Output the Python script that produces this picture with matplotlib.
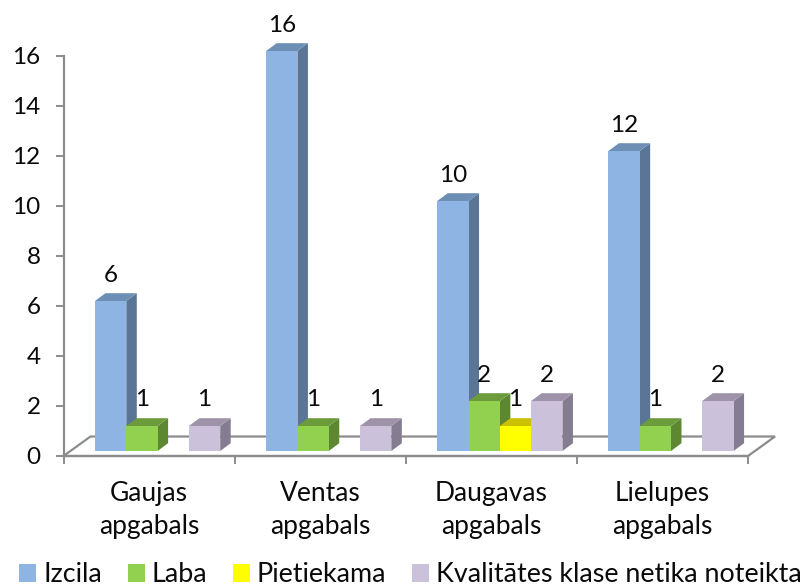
import matplotlib
matplotlib.use("Agg")
import matplotlib.pyplot as plt
from matplotlib.patches import Polygon, Patch

plt.rcParams['font.family'] = ['Lato', 'DejaVu Sans']

categories = ["Gaujas\napgabals", "Ventas\napgabals", "Daugavas\napgabals", "Lielupes\napgabals"]
series_names = ["Izcila", "Laba", "Pietiekama", "Kvalitātes klase netika noteikta"]
izcila = [6, 16, 10, 12]
laba = [1, 1, 2, 1]
pietiekama = [0, 0, 1, 0]
kvalitates = [1, 1, 2, 2]
y_ticks = [0, 2, 4, 6, 8, 10, 12, 14, 16]

# front, top, side colours per series
colors = [("#8EB4E3", "#6E8FB5", "#5B7596"),
          ("#92D050", "#6C9B3C", "#5D8731"),
          ("#FFFF00", "#CCC000", "#CCC000"),
          ("#CCC1DA", "#9E93A9", "#847C91")]

W, H = 805, 587
GRAY = "#8C8C8C"
TEXT = "#0A0A0A"
FS = 19.0
NUM_FS = 17.5
LEG_FS = 19.4

# axes size in pixels, one category is 171 px wide and one unit is 25 px tall
left, right, y0, y16 = 63.5, 748.0, 456.0, 56.0
cat_px = (right - left) / len(categories)
unit_px = (y0 - y16) / 16

bar_w = 31.3 / cat_px
bar_start = 31.5 / cat_px
base = 5.0 / unit_px
depth_x = 10.5 / cat_px
depth_y = 7.8 / unit_px
floor_x = 27.0 / cat_px
floor_y = 19.5 / unit_px
label_gap = 26.0 / unit_px

fig = plt.figure(figsize=(W / 100, H / 100), dpi=100)
ax = fig.add_axes([left / W, 1 - y0 / H, (right - left) / W, (y0 - y16) / H])
ax.set_xlim(0, len(categories))
ax.set_ylim(0, 16)

# floor
n = len(categories)
ax.add_patch(Polygon([(0, 0), (floor_x, floor_y), (n + floor_x, floor_y), (n, 0)],
                     closed=True, facecolor="white", edgecolor=GRAY, lw=1.6,
                     clip_on=False, zorder=1))

all_series = [izcila, laba, pietiekama, kvalitates]
z = 2
for c in range(n):
    for s, values in enumerate(all_series):
        v = values[c]
        if v == 0:
            continue
        x0 = c + bar_start + s * bar_w
        x1 = x0 + bar_w
        top = base + v
        front, top_c, side = colors[s]
        ax.add_patch(Polygon([(x1, base), (x1 + depth_x, base + depth_y),
                              (x1 + depth_x, top + depth_y), (x1, top)],
                             closed=True, facecolor=side, edgecolor="none",
                             clip_on=False, zorder=z))
        ax.add_patch(Polygon([(x0, top), (x0 + depth_x, top + depth_y),
                              (x1 + depth_x, top + depth_y), (x1, top)],
                             closed=True, facecolor=top_c, edgecolor="none",
                             clip_on=False, zorder=z))
        ax.bar(x0, v, width=bar_w, bottom=base, align="edge", color=front,
               clip_on=False, zorder=z + 0.5)
        ax.text(x0 + bar_w / 2, v + base + label_gap, str(v), ha="center", va="center",
                fontsize=NUM_FS, color=TEXT, zorder=100, clip_on=False)
        z += 1

for name in ["top", "right"]:
    ax.spines[name].set_visible(False)
for name in ["left", "bottom"]:
    ax.spines[name].set_color(GRAY)
    ax.spines[name].set_linewidth(1.6)

ax.set_yticks(y_ticks)
ax.tick_params(axis="y", length=6, width=1.4, color=GRAY, labelsize=NUM_FS, labelcolor=TEXT, pad=10.5)
ax.set_xticks(range(n + 1))
ax.set_xticklabels([])
ax.tick_params(axis="x", which="major", length=6, width=1.4, color=GRAY)
ax.set_xticks([c + 0.5 for c in range(n)], categories, minor=True)
ax.tick_params(axis="x", which="minor", length=0, labelsize=FS, labelcolor=TEXT, pad=18)
for t in ax.get_xticklabels(minor=True):
    t.set_linespacing(1.4)

handles = [Patch(facecolor=colors[i][0], edgecolor="none") for i in range(4)]
fig.legend(handles, series_names, loc="center", bbox_to_anchor=(410.5 / W, 1 - 575 / H), ncol=4,
           frameon=False, fontsize=LEG_FS, labelcolor=TEXT, handlelength=0.63, handleheight=0.63,
           handletextpad=0.26, columnspacing=0.95, borderpad=0, borderaxespad=0)

fig.savefig("out.png", dpi=100)
